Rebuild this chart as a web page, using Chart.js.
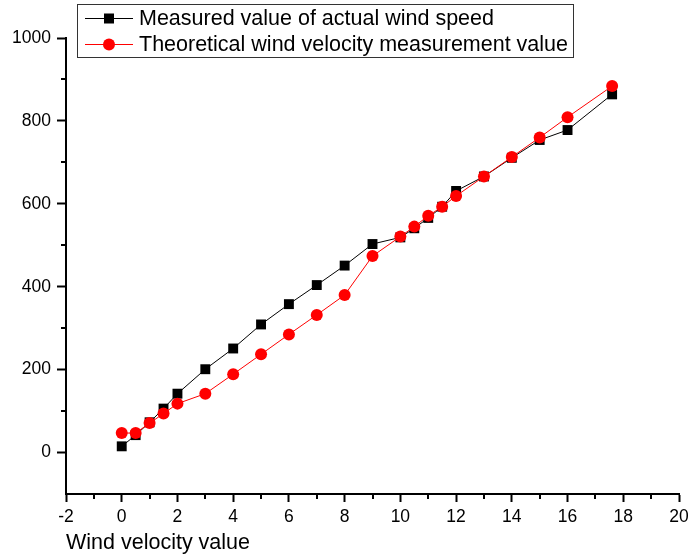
<!DOCTYPE html>
<html>
<head>
<meta charset="utf-8">
<script src="https://cdn.jsdelivr.net/npm/chart.js@4/dist/chart.umd.min.js"></script>
<style>
  html, body { margin: 0; padding: 0; background: #fff; }
  #wrap { width: 688px; height: 558px; }
</style>
</head>
<body>
<div id="wrap"><canvas id="windChart" width="688" height="558"></canvas></div>
<script>
// -----------------------------
// Data
// -----------------------------
const windX = [0, 0.5, 1, 1.5, 2, 3, 4, 5, 6, 7, 8, 9, 10, 10.5, 11, 11.5, 12, 13, 14, 15, 16, 17.6];
const measured = [15, 42, 73, 106, 142, 201, 251, 309, 358, 404, 451, 503, 519, 541, 566, 593, 631, 666, 711, 754, 778, 864];
const theoretical = [47, 47, 71, 94, 118, 142, 189, 237, 285, 332, 380, 474, 521, 545, 571, 593, 619, 666, 713, 760, 809, 884];

const xMajorTicks = [-2, 0, 2, 4, 6, 8, 10, 12, 14, 16, 18, 20];
const xMinorTicks = [-1, 1, 3, 5, 7, 9, 11, 13, 15, 17, 19];
const yMajorTicks = [0, 200, 400, 600, 800, 1000];
const yMinorTicks = [100, 300, 500, 700, 900];

const seriesNames = ["Measured value of actual wind speed", "Theoretical wind velocity measurement value"];
const xTitle = "Wind velocity value";

const FONT = "'Liberation Sans', Arial, sans-serif";

const toPoints = (ys) => windX.map((x, i) => ({ x: x, y: ys[i] }));

// -----------------------------
// Minor ticks + boxed legend
// -----------------------------
const minorTickPlugin = {
    id: "minorTicks",
    afterDraw(chart) {
        const ctx = chart.ctx;
        const xs = chart.scales.x;
        const ys = chart.scales.y;
        const area = chart.chartArea;
        ctx.save();
        ctx.strokeStyle = "#000";
        ctx.lineWidth = 2;
        ctx.beginPath();
        xMinorTicks.forEach((v) => {
            const px = Math.round(xs.getPixelForValue(v));
            ctx.moveTo(px, area.bottom);
            ctx.lineTo(px, area.bottom + 5);
        });
        yMinorTicks.forEach((v) => {
            const py = Math.round(ys.getPixelForValue(v));
            ctx.moveTo(area.left, py);
            ctx.lineTo(area.left - 5, py);
        });
        ctx.stroke();
        ctx.restore();
    },
};

const boxLegendPlugin = {
    id: "boxLegend",
    afterDraw(chart, args, opts) {
        const ctx = chart.ctx;
        ctx.save();
        ctx.fillStyle = "#fff";
        ctx.fillRect(opts.left, opts.top, opts.width, opts.height);
        ctx.strokeStyle = "#333";
        ctx.lineWidth = 1;
        ctx.strokeRect(opts.left + 0.5, opts.top + 0.5, opts.width, opts.height);

        ctx.font = opts.fontSize + "px " + FONT;
        ctx.textBaseline = "middle";
        ctx.textAlign = "left";
        chart.data.datasets.forEach((ds, i) => {
            const y = opts.top + opts.firstRow + i * opts.rowGap;
            const x0 = opts.left + opts.lineStart;
            const x1 = x0 + opts.lineLen;
            const xm = (x0 + x1) / 2;
            ctx.strokeStyle = ds.borderColor;
            ctx.lineWidth = 1;
            ctx.beginPath();
            ctx.moveTo(x0, y);
            ctx.lineTo(x1, y);
            ctx.stroke();
            ctx.fillStyle = ds.pointBackgroundColor;
            if (ds.pointStyle === "rect") {
                const s = 5;
                ctx.fillRect(xm - s, y - s, 2 * s, 2 * s);
            } else {
                ctx.beginPath();
                ctx.arc(xm, y, 6, 0, Math.PI * 2);
                ctx.fill();
            }
            ctx.fillStyle = "#000";
            ctx.fillText(ds.label, x1 + 6, y + 1);
        });
        ctx.restore();
    },
};

// -----------------------------
// Chart
// -----------------------------
const ctx = document.getElementById("windChart");
new Chart(ctx, {
    type: "line",
    data: {
        datasets: [
            {
                label: seriesNames[0],
                data: toPoints(measured),
                borderColor: "#000",
                backgroundColor: "#000",
                pointBackgroundColor: "#000",
                pointBorderColor: "#000",
                pointBorderWidth: 0,
                pointStyle: "rect",
                pointRadius: 7,
                borderWidth: 1,
                tension: 0,
                order: 1,
            },
            {
                label: seriesNames[1],
                data: toPoints(theoretical),
                borderColor: "#ff0000",
                backgroundColor: "#ff0000",
                pointBackgroundColor: "#ff0000",
                pointBorderColor: "#ff0000",
                pointBorderWidth: 0,
                pointStyle: "circle",
                pointRadius: 6,
                borderWidth: 1,
                tension: 0,
                order: 0,
            },
        ],
    },
    options: {
        responsive: false,
        animation: false,
        layout: { padding: { top: 38, right: 9, left: 0, bottom: 0 } },
        plugins: {
            legend: { display: false },
            tooltip: { enabled: false },
            boxLegend: {
                left: 77, top: 4, width: 496, height: 53,
                firstRow: 14.5, rowGap: 26,
                lineStart: 8, lineLen: 48, fontSize: 21.5,
            },
        },
        scales: {
            x: {
                type: "linear",
                min: -2,
                max: 20,
                afterBuildTicks: (scale) => { scale.ticks = xMajorTicks.map((v) => ({ value: v })); },
                afterFit: (scale) => {
                    scale.height = 64;
                    scale.paddingLeft = 0;
                    scale.paddingRight = 0;
                },
                ticks: {
                    color: "#000",
                    padding: 5,
                    maxRotation: 0,
                    autoSkip: false,
                    font: { family: FONT, size: 17.5 },
                    callback: (v) => String(v),
                },
                grid: { drawOnChartArea: false, tickLength: 8, tickColor: "#000", tickWidth: 2 },
                border: { display: true, color: "#000", width: 2 },
                title: {
                    display: true,
                    text: xTitle,
                    align: "start",
                    color: "#000",
                    font: { family: FONT, size: 21.5 },
                    padding: { top: 0, bottom: 2 },
                },
            },
            y: {
                type: "linear",
                min: -100,
                max: 1000,
                afterBuildTicks: (scale) => { scale.ticks = yMajorTicks.map((v) => ({ value: v })); },
                afterFit: (scale) => {
                    scale.width = 66;
                    scale.paddingTop = 0;
                    scale.paddingBottom = 0;
                },
                ticks: {
                    color: "#000",
                    padding: 6,
                    font: { family: FONT, size: 17.5 },
                    callback: (v) => String(v),
                },
                grid: { drawOnChartArea: false, tickLength: 9, tickColor: "#000", tickWidth: 2 },
                border: { display: true, color: "#000", width: 2 },
            },
        },
    },
    plugins: [minorTickPlugin, boxLegendPlugin],
});
</script>
</body>
</html>
